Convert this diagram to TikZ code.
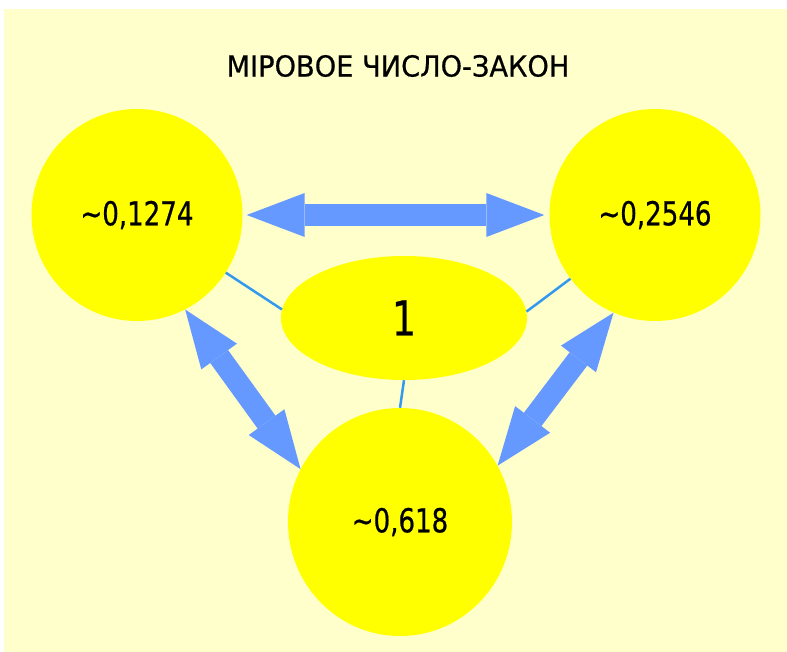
\documentclass[tikz,border=0pt]{standalone}
\usepackage{fontspec}
\setmainfont[FakeStretch=0.79,FakeBold=0.6]{DejaVu Sans}
\newfontfamily\headfont[FakeStretch=0.94,FakeBold=0.6]{DejaVu Sans}
\usetikzlibrary{arrows.meta,shapes.geometric}

\definecolor{paper}{HTML}{FFFFCC}
\definecolor{sun}{HTML}{FFFF00}
\definecolor{flow}{HTML}{6699FF}
\definecolor{link}{HTML}{3399EE}

\begin{document}
\begin{tikzpicture}[
			x=1pt,y=-1pt,
			title/.style={
				font=\headfont\fontsize{29}{33}\selectfont,
				inner sep=0pt
			},
			number/.style={
				ellipse,
				fill=sun,
				inner sep=0pt,
				minimum width=211pt,
				minimum height=212pt,
				font=\fontsize{33}{36}\selectfont
			},
			unity/.style={
				ellipse,
				fill=sun,
				inner sep=0pt,
				minimum width=246pt,
				minimum height=124pt,
				font=\fontsize{48}{52}\selectfont
			},
			bigarrow/.style={
				{Triangle[length=58pt,width=44pt,line width=0pt]}-{Triangle[length=58pt,width=44pt,line width=0pt]},
				draw=flow,
				line width=22pt
			},
			thin/.style={
				draw=link,
				line width=2.5pt
			}
			]

			% Hintergrund
			\useasboundingbox (0,0) rectangle (787,652);
			\fill[white] (0,0) rectangle (787,652);
			\fill[paper] (4,9) rectangle (787,652);

			\node[title] (head) at (398,66) {МІРОВОЕ ЧИСЛО-ЗАКОН};

			% Kreise
			\node[number] (left) at (137,215) {\textasciitilde0,1274};
			\node[number] (right) at (655,215) {\textasciitilde0,2546};
			\node[number,minimum width=224pt,minimum height=228pt] (bottom) at (400,522) {\textasciitilde0,618};
			\node[unity] (one) at (404,318) {1};

			% Verbindungen
			\draw[thin] (left.-33) -- (one.176);
			\draw[thin] (right.217) -- (one.3);
			\draw[thin] (one.south) -- (bottom.north);

			% Pfeile
			\draw[bigarrow,shorten <=4pt,shorten >=5pt] (left.east) -- (right.west);
			\draw[bigarrow] (left.-63) -- (bottom.152);
			\draw[bigarrow] (right.247) -- (bottom.30);

\end{tikzpicture}
\end{document}
